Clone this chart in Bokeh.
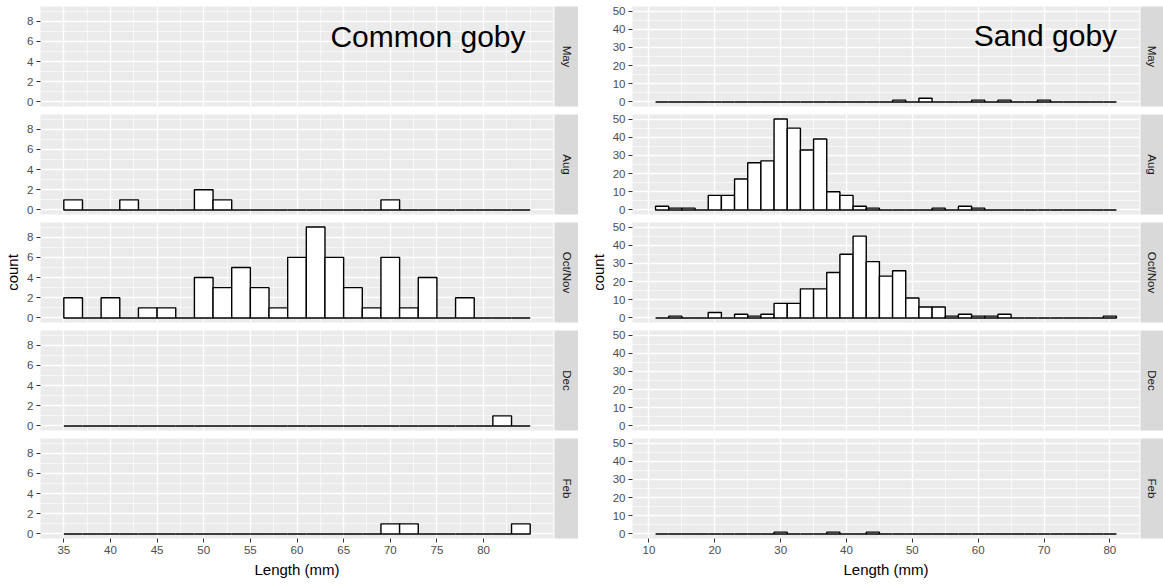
import numpy as np
from bokeh.plotting import figure
from bokeh.layouts import row, column
from bokeh.models import Range1d, FixedTicker, Label
from bokeh.core.properties import value
from bokeh.embed import file_html
from bokeh.resources import INLINE

# ---------------- data ----------------
months = ["May", "Aug", "Oct/Nov", "Dec", "Feb"]

# Common goby: 2 mm bins from 35 to 85 mm
common_bin_edges = list(range(35, 87, 2))
common_may = None
common_aug = [1, 0, 0, 1, 0, 0, 0, 2, 1, 0, 0, 0, 0, 0, 0, 0, 0, 1, 0, 0, 0, 0, 0, 0, 0]
common_octnov = [2, 0, 2, 0, 1, 1, 0, 4, 3, 5, 3, 1, 6, 9, 6, 3, 1, 6, 1, 4, 0, 2, 0, 0, 0]
common_dec = [0, 0, 0, 0, 0, 0, 0, 0, 0, 0, 0, 0, 0, 0, 0, 0, 0, 0, 0, 0, 0, 0, 0, 1, 0]
common_feb = [0, 0, 0, 0, 0, 0, 0, 0, 0, 0, 0, 0, 0, 0, 0, 0, 0, 1, 1, 0, 0, 0, 0, 0, 1]

# Sand goby: 2 mm bins from 11 to 81 mm
sand_bin_edges = list(range(11, 83, 2))
sand_may = [0, 0, 0, 0, 0, 0, 0, 0, 0, 0, 0, 0, 0, 0, 0, 0, 0, 0, 1, 0,
            2, 0, 0, 0, 1, 0, 1, 0, 0, 1, 0, 0, 0, 0, 0]
sand_aug = [2, 1, 1, 0, 8, 8, 17, 26, 27, 50, 45, 33, 39, 10, 8, 2, 1, 0, 0, 0,
            0, 1, 0, 2, 1, 0, 0, 0, 0, 0, 0, 0, 0, 0, 0]
sand_octnov = [0, 1, 0, 0, 3, 0, 2, 1, 2, 8, 8, 16, 16, 25, 35, 45, 31, 23, 26, 11,
               6, 6, 1, 2, 1, 1, 2, 0, 0, 0, 0, 0, 0, 0, 1]
sand_dec = None
sand_feb = [0, 0, 0, 0, 0, 0, 0, 0, 0, 1, 0, 0, 0, 1, 0, 0, 1, 0, 0, 0,
            0, 0, 0, 0, 0, 0, 0, 0, 0, 0, 0, 0, 0, 0, 0]

common_series = [common_may, common_aug, common_octnov, common_dec, common_feb]
sand_series = [sand_may, sand_aug, sand_octnov, sand_dec, sand_feb]

common_xticks = [35, 40, 45, 50, 55, 60, 65, 70, 75, 80]
common_xminor = [37.5, 42.5, 47.5, 52.5, 57.5, 62.5, 67.5, 72.5, 77.5, 82.5, 85]
common_yticks = [0, 2, 4, 6, 8]
common_yminor = [1, 3, 5, 7, 9]
sand_xticks = [10, 20, 30, 40, 50, 60, 70, 80]
sand_xminor = [15, 25, 35, 45, 55, 65, 75]
sand_yticks = [0, 10, 20, 30, 40, 50]
sand_yminor = [5, 15, 25, 35, 45]

FONT = "Liberation Sans"
PANEL_BG = "#EBEBEB"
STRIP_BG = "#D9D9D9"


def make_panel(counts, edges, xr, yr, xt, xm, yt, ym, frame_w, b_left, top, bottom,
               show_x, show_ylab):
    p = figure(frame_width=frame_w, frame_height=100, min_border_left=b_left,
               min_border_right=1, min_border_top=top, min_border_bottom=bottom,
               x_range=Range1d(*xr), y_range=Range1d(*yr), title=None,
               toolbar_location=None, output_backend="svg",
               background_fill_color=PANEL_BG, border_fill_color="white",
               outline_line_color=None)
    xtick = FixedTicker(ticks=xt, minor_ticks=xm)
    ytick = FixedTicker(ticks=yt, minor_ticks=ym)
    p.xaxis.ticker = xtick
    p.yaxis.ticker = ytick
    p.xgrid.ticker = xtick
    p.ygrid.ticker = ytick
    for g in (p.xgrid, p.ygrid):
        g.grid_line_color = "white"
        g.grid_line_width = 1.3
        g.minor_grid_line_color = "white"
        g.minor_grid_line_width = 0.6
    for ax in (p.xaxis, p.yaxis):
        ax.axis_line_color = None
        ax.major_tick_line_color = "#333333"
        ax.major_tick_out = 4
        ax.major_tick_in = 0
        ax.minor_tick_line_color = None
        ax.major_label_text_color = "#4D4D4D"
        ax.major_label_text_font = FONT
        ax.major_label_text_font_size = "11.5px"
        ax.major_label_standoff = 3
        ax.axis_label_text_font = FONT
        ax.axis_label_text_font_size = "15px"
        ax.axis_label_text_font_style = "normal"
        ax.axis_label_text_color = "black"
    if not show_x:
        p.xaxis.visible = False
    else:
        p.xaxis.axis_label = "Length (mm)"
        p.xaxis.axis_label_standoff = 4
    if show_ylab:
        p.yaxis.axis_label = "count"
        p.yaxis.axis_label_standoff = 3
    if counts is not None:
        p.quad(left=edges[:-1], right=edges[1:], bottom=0, top=counts,
               fill_color="white", line_color="black", line_width=1.4)
    return p


def make_strip(label, w, top, bottom):
    s = figure(frame_width=w, frame_height=100, min_border_left=0, min_border_right=0,
               min_border_top=top, min_border_bottom=bottom,
               x_range=Range1d(0, 1), y_range=Range1d(0, 1), title=None,
               x_axis_location=None, y_axis_location=None,
               toolbar_location=None, output_backend="svg",
               background_fill_color=STRIP_BG, border_fill_color="white",
               outline_line_color=None)
    s.grid.visible = False
    s.text(x=[0.5], y=[0.5], text=[label], angle=-np.pi / 2, text_align="center",
           text_baseline="middle", text_font=value(FONT), text_font_size="11.5px",
           text_color="#1A1A1A")
    return s


tops = [6, 4, 4, 4, 4]
bottoms = [4, 4, 4, 4, 46]

left_rows = []
right_rows = []
for i, m in enumerate(months):
    last = i == len(months) - 1
    lp = make_panel(common_series[i], common_bin_edges, (32.5, 87.5), (-0.45, 9.45),
                    common_xticks, common_xminor, common_yticks, common_yminor,
                    513, 40, tops[i], bottoms[i], last, m == "Oct/Nov")
    rp = make_panel(sand_series[i], sand_bin_edges, (7.5, 84.5), (-2.5, 52.5),
                    sand_xticks, sand_xminor, sand_yticks, sand_yminor,
                    507, 54, tops[i], bottoms[i], last, m == "Oct/Nov")
    if i == 0:
        lp.add_layout(Label(x=84.5, y=6.5, text="Common goby", text_align="right",
                            text_baseline="alphabetic", text_font=FONT,
                            text_font_size="30px", text_color="black"))
        rp.add_layout(Label(x=81.1, y=36.3, text="Sand goby", text_align="right",
                            text_baseline="alphabetic", text_font=FONT,
                            text_font_size="30px", text_color="black"))
    left_rows.append(row(lp, make_strip(m, 24, tops[i], bottoms[i])))
    right_rows.append(row(rp, make_strip(m, 23, tops[i], bottoms[i])))

layout = row(column(*left_rows), column(*right_rows))

with open("out.html", "w") as f:
    f.write(file_html(layout, INLINE))
